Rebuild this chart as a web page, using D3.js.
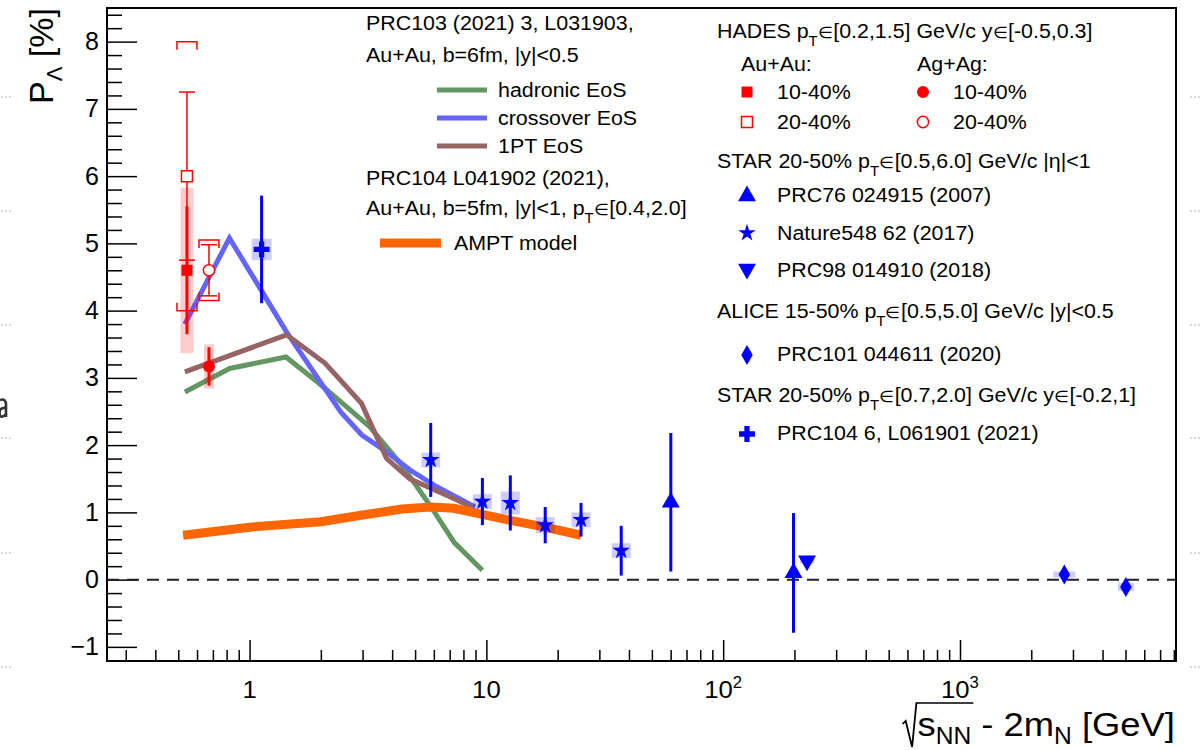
<!DOCTYPE html>
<html><head><meta charset="utf-8">
<script src="https://cdn.jsdelivr.net/npm/d3@7"></script>
<style>
html,body{margin:0;padding:0;background:#fff;}
svg{display:block;}
text{font-family:"Liberation Sans", Arial, Helvetica, sans-serif; white-space:pre;}
</style></head><body>
<svg id="c" width="1204" height="750"></svg>
<script>
// ---------------- data ----------------
const xDomain = [0.25, 8170];
const yDomain = [-1.21, 8.5];
const xMajorTicks = [1, 10, 100, 1000];
const xMinorTicks = [0.3,0.4,0.5,0.6,0.7,0.8,0.9, 2,3,4,5,6,7,8,9, 20,30,40,50,60,70,80,90, 200,300,400,500,600,700,800,900, 2000,3000,4000,5000,6000,7000,8000];
const xTickLabels = [["1",""],["10",""],["10","2"],["10","3"]];
const yMajorTicks = [-1,0,1,2,3,4,5,6,7,8];

// HADES
const auau1040X = [0.544], auau1040Y = [4.60], auau1040Stat = [0.95], auau1040Sys = [1.23];
const auau2040X = [0.544], auau2040Y = [6.00], auau2040Stat = [1.25], auau2040Sys = [2.00];
const agag1040X = [0.674], agag1040Y = [3.17], agag1040Stat = [0.285], agag1040Sys = [0.33];
const agag2040X = [0.674], agag2040Y = [4.60], agag2040Stat = [0.38], agag2040Sys = [0.45];
// STAR
const prc76X = [60.1, 198.1], prc76Y = [1.15, 0.10], prc76Stat = [1.03, 0.89];
const nat548X = [5.82, 9.62, 12.62, 17.72, 25.1, 37.1];
const nat548Y = [1.78, 1.16, 1.14, 0.81, 0.89, 0.43];
const nat548Stat = [0.55, 0.35, 0.41, 0.27, 0.25, 0.37];
const nat548Sys = [0.11, 0.11, 0.17, 0.12, 0.11, 0.11];
const prc98X = [226], prc98Y = [0.28], prc98Stat = [0.02], prc98Sys = [0.04];
const prc104X = [1.124], prc104Y = [4.91], prc104Stat = [0.80], prc104Sys = [0.16];
// ALICE
const aliceX = [2758, 5018], aliceY = [0.075, -0.11], aliceStat = [0.10, 0.10], aliceSys = [0.045, 0.06];
// models
const hadronicX = [0.533, 0.824, 1.424, 1.964, 2.63, 3.22, 4.40, 5.82, 7.32, 9.62];
const hadronicY = [2.79, 3.14, 3.31, 2.92, 2.54, 2.27, 1.70, 1.09, 0.55, 0.14];
const crossoverX = [0.533, 0.822, 1.44, 2.43, 2.98, 3.69, 4.76, 6.18, 8.95];
const crossoverY = [3.80, 5.08, 3.67, 2.49, 2.15, 1.93, 1.63, 1.38, 1.08];
const onePTX = [0.533, 1.434, 2.08, 2.97, 3.79, 4.75, 7.25, 8.66];
const onePTY = [3.09, 3.64, 3.22, 2.62, 1.80, 1.50, 1.21, 1.08];
const amptX = [0.524, 1.0, 2.0, 3.0, 4.4, 5.82, 7.3, 9.62, 12.62, 17.72, 25.1];
const amptY = [0.66, 0.78, 0.86, 0.96, 1.05, 1.08, 1.06, 0.97, 0.88, 0.78, 0.66];

// ---------------- layout / styles ----------------
const L = 107, R = 1176, T = 8, B = 661;
const SX = 1.07;
const RED = "#ff0000", BLUE = "#0000ff";
const cGreen = "#649664", cBlue = "#6464ff", cBrown = "#966464", cOrange = "#ff6600";

const svg = d3.select("#c");
const x = d3.scaleLog().domain(xDomain).range([L, R]);
const y = d3.scaleLinear().domain(yDomain).range([B, T]);

// page artifacts at the edges
const artY = [96, 210, 324, 437, 552, 666];
artY.forEach(v => {
  [1, 5, 9, 1190, 1194, 1198].forEach(px => svg.append("rect").attr("x", px).attr("y", v).attr("width", 2).attr("height", 2).attr("fill", "#d8d8d8"));
});
svg.append("path").attr("d", "M0,400 Q6,398 6,405 V417 M6,408 Q-2,407 0,416 Q3,418 6,414")
  .attr("fill", "none").attr("stroke", "#333").attr("stroke-width", 2.6);

// helper for rich text
function rich(parent, px, py, segs, size, anchor) {
  const t = parent.append("text").attr("transform", `translate(${px},${py}) scale(${SX},1)`)
    .attr("font-size", size).attr("fill", "#000");
  if (anchor) t.attr("text-anchor", anchor);
  let cur = 0;
  segs.forEach(seg => {
    const s = typeof seg === "string" ? seg : seg[0];
    const k = typeof seg === "string" ? "n" : seg[1];
    const sp = t.append("tspan").text(s);
    if (k === "sub") { const d = size * 0.38; sp.attr("font-size", size * 0.7).attr("dy", d - cur); cur = d; }
    else if (k === "sup") { const d = -size * 0.42; sp.attr("font-size", size * 0.65).attr("dy", d - cur); cur = d; }
    else if (k === "sym") { sp.attr("font-size", size * 0.82).attr("dy", -cur); cur = 0; }
    else { if (cur !== 0) sp.attr("dy", -cur); cur = 0; }
  });
  return t;
}

// ---------------- axes ----------------
const gx = svg.append("g").attr("transform", `translate(0,${B})`);
gx.append("g").call(d3.axisBottom(x).tickValues(xMinorTicks).tickSize(-11).tickFormat("").tickSizeOuter(0))
  .call(g => g.select(".domain").remove())
  .selectAll("line").attr("stroke", "#000").attr("stroke-width", 1.5);
gx.append("g").call(d3.axisBottom(x).tickValues(xMajorTicks).tickSize(-21).tickFormat("").tickSizeOuter(0))
  .call(g => g.select(".domain").remove())
  .selectAll("line").attr("stroke", "#000").attr("stroke-width", 1.5);
xMajorTicks.forEach((v, i) => {
  const lab = xTickLabels[i];
  const segs = lab[1] ? [lab[0], [lab[1], "sup"]] : [lab[0]];
  rich(svg, x(v), 698, segs, 24, "middle");
});

const yMinorTicks = d3.range(-12, 85, 2).map(v => v / 10).filter(v => Math.abs(v - Math.round(v)) > 1e-6);
const gy = svg.append("g").attr("transform", `translate(${L},0)`);
gy.append("g").call(d3.axisLeft(y).tickValues(yMinorTicks).tickSize(-15).tickFormat("").tickSizeOuter(0))
  .call(g => g.select(".domain").remove())
  .selectAll("line").attr("stroke", "#000").attr("stroke-width", 1.5);
gy.append("g").call(d3.axisLeft(y).tickValues(yMajorTicks).tickSize(-30).tickPadding(8).tickSizeOuter(0))
  .call(g => g.select(".domain").remove())
  .call(g => g.selectAll("line").attr("stroke", "#000").attr("stroke-width", 1.5))
  .call(g => g.selectAll("text").attr("font-size", 25).attr("fill", "#000")
    .attr("font-family", '"Liberation Sans", Arial, sans-serif'));

// frame
svg.append("rect").attr("x", L).attr("y", T).attr("width", R - L).attr("height", B - T)
  .attr("fill", "none").attr("stroke", "#000").attr("stroke-width", 2);

// zero line
svg.append("line").attr("x1", L).attr("x2", R).attr("y1", y(0)).attr("y2", y(0))
  .attr("stroke", "#222").attr("stroke-width", 2).attr("stroke-dasharray", "12,8");

// axis titles
(function () {
  const by = 736, fs = 34, fsub = 23;
  const g = svg.append("g");
  const pieces = [["s", fs, 0], ["NN", fsub, 8], [" - 2m", fs, 0], ["N", fsub, 8], [" [GeV]", fs, 0]];
  let cx = 0; const nodes = [];
  pieces.forEach(p => {
    const t = g.append("text").attr("x", cx).attr("y", by + p[2]).attr("font-size", p[1]).text(p[0]);
    const w = t.node().getComputedTextLength();
    nodes.push([cx, w]); cx += w;
  });
  const shift = 1175 / SX - cx;
  g.attr("transform", `scale(${SX},1) translate(${shift},0)`);
  const sx0 = nodes[0][0], nnEnd = nodes[1][0] + nodes[1][1];
  g.append("path").attr("d", `M${sx0 - 14},${by - 12} L${sx0 - 11},${by - 15} L${sx0 - 5},${by + 11} L${sx0 - 1},${by - 33} H${nnEnd + 2}`)
    .attr("fill", "none").attr("stroke", "#000").attr("stroke-width", 1.7);
})();
svg.append("text").attr("transform", "translate(53,8) rotate(-90)").attr("text-anchor", "end")
  .attr("font-size", 34)
  .call(t => { t.append("tspan").text("P"); t.append("tspan").attr("font-size", 22).attr("dy", 9).text("Λ"); t.append("tspan").attr("dy", -9).text(" [%]"); });

// ---------------- model curves ----------------
const line = d3.line().x(d => x(d[0])).y(d => y(d[1]));
function curve(xs, ys, col, w) {
  svg.append("path").datum(xs.map((v, i) => [v, ys[i]])).attr("d", line)
    .attr("fill", "none").attr("stroke", col).attr("stroke-width", w).attr("stroke-linejoin", "miter");
}
curve(hadronicX, hadronicY, cGreen, 5);
curve(crossoverX, crossoverY, cBlue, 5);
curve(onePTX, onePTY, cBrown, 5);
curve(amptX, amptY, cOrange, 9);

// ---------------- data helpers ----------------
function sysBox(xs, ys, ss, w, col) {
  xs.forEach((v, i) => svg.append("rect").attr("x", x(v) - w / 2).attr("y", y(ys[i] + ss[i]))
    .attr("width", w).attr("height", y(ys[i] - ss[i]) - y(ys[i] + ss[i])).attr("fill", col).attr("fill-opacity", 0.2));
}
function statBar(xs, ys, es, col, w, cap) {
  xs.forEach((v, i) => {
    svg.append("line").attr("x1", x(v)).attr("x2", x(v)).attr("y1", y(ys[i] + es[i])).attr("y2", y(ys[i] - es[i]))
      .attr("stroke", col).attr("stroke-width", w);
    if (cap) [ys[i] + es[i], ys[i] - es[i]].forEach(e => svg.append("line").attr("x1", x(v) - cap / 2).attr("x2", x(v) + cap / 2)
      .attr("y1", y(e)).attr("y2", y(e)).attr("stroke", col).attr("stroke-width", w));
  });
}
function brackets(xs, ys, ss, col) {
  xs.forEach((v, i) => {
    const cx = x(v), yt = y(ys[i] + ss[i]), yb = y(ys[i] - ss[i]);
    svg.append("path").attr("d", `M${cx - 10},${yt + 8} V${yt} H${cx + 10} V${yt + 8} M${cx - 10},${yb - 8} V${yb} H${cx + 10} V${yb - 8}`)
      .attr("fill", "none").attr("stroke", col).attr("stroke-width", 1.5);
  });
}
const sym = (type, size) => d3.symbol().type(type).size(size)();
function marker(g, px, py, kind) {
  let p;
  switch (kind) {
    case "sqF": p = g.append("path").attr("d", sym(d3.symbolSquare, 121)).attr("fill", RED); break;
    case "sqO": p = g.append("path").attr("d", sym(d3.symbolSquare, 121)).attr("fill", "#fff").attr("stroke", RED).attr("stroke-width", 1.5); break;
    case "ciF": p = g.append("path").attr("d", sym(d3.symbolCircle, 113)).attr("fill", RED); break;
    case "ciO": p = g.append("path").attr("d", sym(d3.symbolCircle, 100)).attr("fill", "#fff").attr("stroke", RED).attr("stroke-width", 1.5); break;
    case "triU": p = g.append("path").attr("d", sym(d3.symbolTriangle, 140)).attr("fill", BLUE); break;
    case "triD": p = g.append("path").attr("d", sym(d3.symbolTriangle, 140)).attr("fill", BLUE); break;
    case "star": p = g.append("path").attr("d", sym(d3.symbolStar, 95)).attr("fill", BLUE); break;
    case "dia": p = g.append("path").attr("d", sym(d3.symbolDiamond, 115)).attr("fill", BLUE); break;
    case "cross": p = g.append("path").attr("d", sym(d3.symbolCross, 140)).attr("fill", BLUE); break;
  }
  p.attr("transform", `translate(${px},${py})` + (kind === "triD" ? " rotate(180)" : ""));
}
function markers(xs, ys, kind) { xs.forEach((v, i) => marker(svg, x(v), y(ys[i]), kind)); }

// systematic boxes
sysBox(auau1040X, auau1040Y, auau1040Sys, 13, RED);
sysBox(agag1040X, agag1040Y, agag1040Sys, 10, RED);
sysBox(nat548X, nat548Y, nat548Sys, 19, BLUE);
sysBox(prc104X, prc104Y, prc104Sys, 20, BLUE);
sysBox(prc98X, prc98Y, prc98Sys, 14, BLUE);
sysBox(aliceX.slice(0, 1), aliceY.slice(0, 1), aliceSys.slice(0, 1), 22, BLUE);
sysBox(aliceX.slice(1), aliceY.slice(1), aliceSys.slice(1), 16, BLUE);
brackets(auau2040X, auau2040Y, auau2040Sys, RED);
brackets(agag2040X, agag2040Y, agag2040Sys, RED);

// statistical bars
statBar(auau2040X, auau2040Y, auau2040Stat, RED, 1.5, 16);
statBar(agag2040X, agag2040Y, agag2040Stat, RED, 1.5, 16);
statBar(auau1040X, auau1040Y, auau1040Stat, RED, 3, 0);
statBar(agag1040X, agag1040Y, agag1040Stat, RED, 3, 0);
statBar(nat548X, nat548Y, nat548Stat, BLUE, 3, 0);
statBar(prc76X, prc76Y, prc76Stat, BLUE, 3, 0);
statBar(prc98X, prc98Y, prc98Stat, BLUE, 3, 0);
statBar(prc104X, prc104Y, prc104Stat, BLUE, 3, 0);
statBar(aliceX, aliceY, aliceStat, BLUE, 3, 0);

// markers
markers(auau2040X, auau2040Y, "sqO");
markers(agag2040X, agag2040Y, "ciO");
markers(auau1040X, auau1040Y, "sqF");
markers(agag1040X, agag1040Y, "ciF");
markers(nat548X, nat548Y, "star");
markers(prc76X, prc76Y, "triU");
markers(prc98X, prc98Y, "triD");
markers(prc104X, prc104Y, "cross");
markers(aliceX, aliceY, "dia");

// ---------------- legends ----------------
const lg = svg.append("g");
const FS = 20;
const IN = ["∈", "sym"];
rich(lg, 366, 30, ["PRC103 (2021) 3, L031903,"], FS);
rich(lg, 366, 62, ["Au+Au, b=6fm, |y|<0.5"], FS);
[[cGreen, 90, "hadronic EoS"], [cBlue, 118, "crossover EoS"], [cBrown, 146, "1PT EoS"]].forEach(d => {
  lg.append("line").attr("x1", 437).attr("x2", 487).attr("y1", d[1]).attr("y2", d[1]).attr("stroke", d[0]).attr("stroke-width", 5);
  rich(lg, 498, d[1] + 7, [d[2]], FS);
});
rich(lg, 366, 185, ["PRC104 L041902 (2021),"], FS);
rich(lg, 366, 215, ["Au+Au, b=5fm, |y|<1, p", ["T", "sub"], IN, "[0.4,2.0]"], FS);
lg.append("line").attr("x1", 380).attr("x2", 441).attr("y1", 243).attr("y2", 243).attr("stroke", cOrange).attr("stroke-width", 9);
rich(lg, 454, 250, ["AMPT model"], FS);

rich(lg, 717, 38, ["HADES p", ["T", "sub"], IN, "[0.2,1.5] GeV/c y", IN, "[-0.5,0.3]"], FS);
rich(lg, 741, 71, ["Au+Au:"], FS);
rich(lg, 917, 71, ["Ag+Ag:"], FS);
marker(lg, 747, 92, "sqF"); rich(lg, 777, 99, ["10-40%"], FS);
marker(lg, 747, 122, "sqO"); rich(lg, 777, 129, ["20-40%"], FS);
marker(lg, 923, 92, "ciF"); rich(lg, 953, 99, ["10-40%"], FS);
marker(lg, 923, 122, "ciO"); rich(lg, 953, 129, ["20-40%"], FS);
rich(lg, 717, 168, ["STAR 20-50% p", ["T", "sub"], IN, "[0.5,6.0] GeV/c |η|<1"], FS);
marker(lg, 747, 196, "triU"); rich(lg, 777, 202, ["PRC76 024915 (2007)"], FS);
marker(lg, 747, 233, "star"); rich(lg, 777, 240, ["Nature548 62 (2017)"], FS);
marker(lg, 747, 269, "triD"); rich(lg, 777, 277, ["PRC98 014910 (2018)"], FS);
rich(lg, 717, 318, ["ALICE 15-50% p", ["T", "sub"], IN, "[0.5,5.0] GeV/c |y|<0.5"], FS);
marker(lg, 747, 355, "dia"); rich(lg, 777, 361, ["PRC101 044611 (2020)"], FS);
rich(lg, 717, 402, ["STAR 20-50% p", ["T", "sub"], IN, "[0.7,2.0] GeV/c y", IN, "[-0.2,1]"], FS);
marker(lg, 747, 434, "cross"); rich(lg, 777, 440, ["PRC104 6, L061901 (2021)"], FS);
</script>
</body></html>
